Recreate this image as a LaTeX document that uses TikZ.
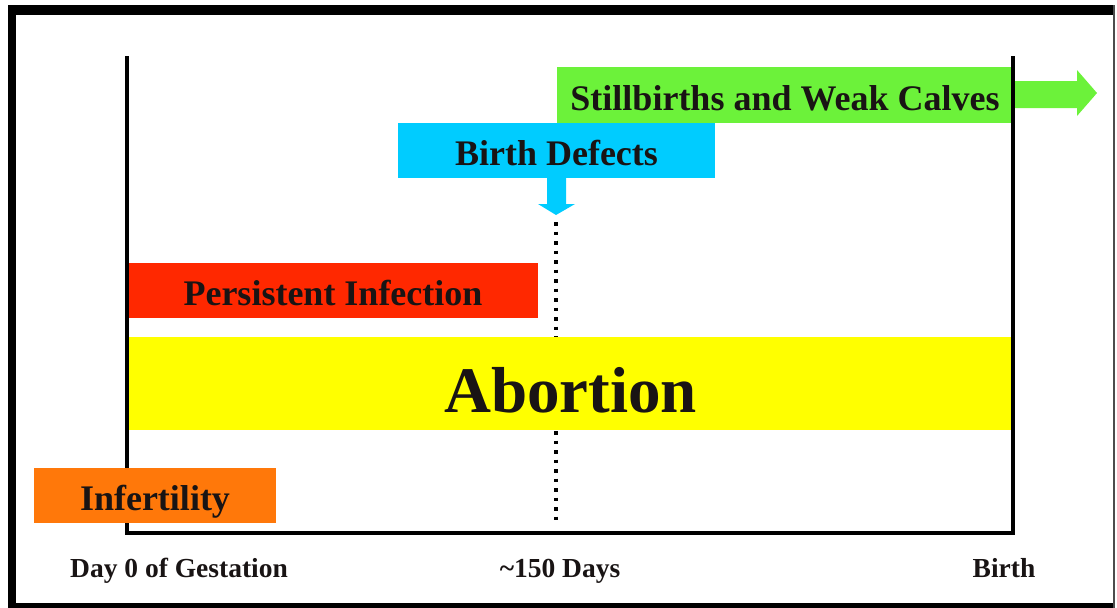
\documentclass[tikz,border=0pt]{standalone}
\usepackage{fontspec}
\setmainfont{Liberation Serif}
\definecolor{cgreen}{RGB}{108,242,58}
\definecolor{cblue}{RGB}{0,204,255}
\definecolor{cred}{RGB}{255,40,0}
\definecolor{cyellow}{RGB}{255,255,0}
\definecolor{corange}{RGB}{255,120,10}
\definecolor{ctext}{RGB}{25,20,20}
\tikzset{
  bar/.style={rectangle, inner sep=0pt, text=ctext, text depth=0pt, font=\bfseries\fontsize{36}{40}\selectfont},
  lbl/.style={inner sep=0pt, anchor=base, text=ctext, font=\bfseries\fontsize{27.5}{30}\selectfont},
  axis/.style={line width=4pt, line cap=rect, line join=miter, black},
  dotline/.style={line width=3.5pt, dash pattern=on 3.5pt off 6pt, black},
  frame/.style={fill=black}
}
\begin{document}
\begin{tikzpicture}[x=1pt,y=-1pt]
\useasboundingbox (0,0) rectangle (1117,608);
% screenshot frame
\fill[frame] (8,5) rectangle (1115,15);
\fill[frame] (8,5) rectangle (16,608);
\fill[frame] (8,603) rectangle (1115,608);
\fill[black!70] (1113,5) rectangle (1115,608);
% coordinates of the axes
\coordinate (tl) at (127,58);
\coordinate (bl) at (127,533);
\coordinate (br) at (1013,533);
\coordinate (tr) at (1013,58);
\coordinate (dtop) at (556,222);
\coordinate (dbot) at (556,523);
% dotted line
\draw[dotline] (dtop) -- (dbot);
% green bar and arrow
\node[bar, fill=cgreen, minimum width=456pt, minimum height=56pt, text height=31pt] (still) at (785,94.5) {Stillbirths and Weak Calves};
\fill[cgreen] (1010,81) -- (1077,81) -- (1077,70) -- (1097,93) -- (1077,116) -- (1077,108) -- (1010,108) -- cycle;
% blue bar and arrow
\node[bar, fill=cblue, minimum width=317pt, minimum height=55pt, text height=29pt] (defects) at (556.5,150.5) {Birth Defects};
\fill[cblue] (547,177) -- (547,204) -- (538,204) -- (556,215) -- (575,204) -- (566,204) -- (566,177) -- cycle;
% red and yellow bars
\node[bar, fill=cred, minimum width=410pt, minimum height=55pt, text height=29pt] (persist) at (333,290.5) {Persistent Infection};
\node[bar, fill=cyellow, minimum width=885pt, minimum height=93pt, text height=57pt, font=\bfseries\fontsize{65}{70}\selectfont] (abort) at (570.5,383.5) {Abortion};
% axes
\draw[axis] (tl) -- (bl) -- (br) -- (tr);
% orange bar
\node[bar, fill=corange, minimum width=242pt, minimum height=55pt, text height=29pt] (infert) at (155,495.5) {Infertility};
% bottom labels
\node[lbl] (day0) at (179,577) {Day 0 of Gestation};
\node[lbl] (d150) at (560,577) {\textasciitilde150 Days};
\node[lbl] (birth) at (1004,577) {Birth};
\end{tikzpicture}
\end{document}
